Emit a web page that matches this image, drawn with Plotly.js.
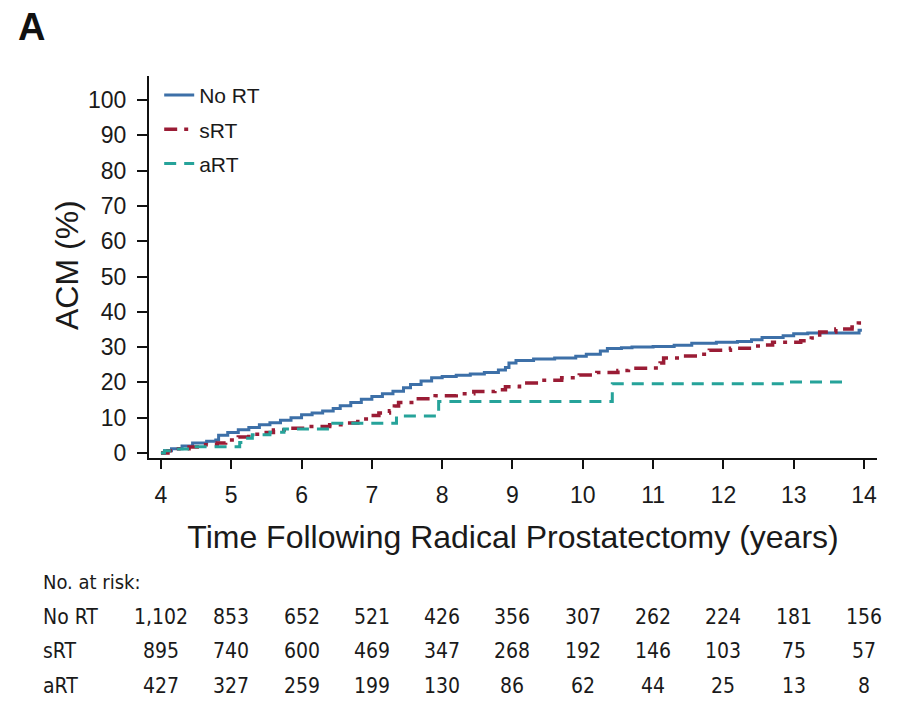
<!DOCTYPE html>
<html>
<head>
<meta charset="utf-8">
<script src="https://cdn.plot.ly/plotly-3.0.1.min.js"></script>
<style>
  html, body { margin: 0; padding: 0; background: #fff; }
  #chart { width: 904px; height: 704px; }
</style>
</head>
<body>
<div id="chart"></div>
<script>
// Cumulative all-cause mortality (%) by years after radical prostatectomy
const noRtYears = [4.00, 4.05, 4.15, 4.30, 4.45, 4.65, 4.78, 4.82, 4.95, 5.10, 5.25, 5.40, 5.55, 5.70, 5.85,
  6.00, 6.15, 6.30, 6.45, 6.55, 6.70, 6.85, 7.00, 7.15, 7.30, 7.45, 7.55, 7.70, 7.85, 8.00, 8.20, 8.40,
  8.60, 8.80, 8.90, 8.95, 9.05, 9.30, 9.60, 9.90, 10.05, 10.25, 10.35, 10.55, 10.70, 11.00, 11.30, 11.55,
  11.90, 12.20, 12.40, 12.55, 12.85, 13.00, 13.20, 13.90, 13.93, 13.97];
const noRtAcm = [0, 0.6, 1.2, 2.0, 2.8, 3.3, 3.7, 5.0, 5.8, 6.6, 7.2, 8.0, 8.6, 9.3, 10.0,
  10.8, 11.3, 11.9, 12.6, 13.4, 14.3, 15.2, 16.0, 16.8, 17.5, 18.5, 19.4, 20.4, 21.3, 21.7, 22.0, 22.4,
  22.8, 23.5, 24.2, 25.5, 26.2, 26.6, 26.9, 27.4, 28.0, 28.9, 29.6, 29.8, 30.0, 30.2, 30.5, 31.1,
  31.4, 31.6, 32.1, 32.7, 33.2, 33.8, 34.0, 34.0, 34.8, 34.8];

const sRtYears = [4.00, 4.10, 4.25, 4.40, 4.60, 4.80, 4.92, 5.10, 5.25, 5.40, 5.60, 5.85, 6.10, 6.40, 6.65,
  6.80, 6.95, 7.10, 7.25, 7.32, 7.38, 7.60, 7.90, 8.20, 8.45, 8.75, 8.90, 9.10, 9.40, 9.70, 9.95, 10.20,
  10.50, 10.65, 11.00, 11.10, 11.15, 11.40, 11.60, 11.80, 12.10, 12.40, 12.60, 12.70, 13.10, 13.25, 13.37,
  13.60, 13.83, 13.92, 13.97];
const sRtAcm = [0, 0.6, 1.2, 1.7, 2.3, 2.8, 3.7, 4.5, 5.3, 5.8, 6.5, 7.0, 7.5, 8.0, 8.5,
  9.6, 10.6, 11.3, 12.0, 13.3, 14.3, 15.4, 16.2, 16.8, 17.4, 17.9, 18.8, 19.8, 20.6, 21.3, 22.1, 22.8,
  23.4, 24.0, 24.1, 25.5, 26.9, 27.5, 28.0, 29.1, 29.7, 30.3, 30.6, 31.4, 31.8, 32.6, 34.3,
  35.1, 35.7, 36.8, 37.2];

const aRtYears = [4.00, 4.05, 4.20, 4.40, 5.12, 5.20, 5.30, 5.55, 5.75, 6.40, 7.35, 7.95, 10.42, 12.90, 13.80];
const aRtAcm = [0, 0.6, 1.1, 1.8, 3.0, 4.2, 5.2, 5.9, 6.8, 8.4, 10.5, 14.6, 19.6, 20.1, 20.1];

// Number at risk table
const riskYears = [4, 5, 6, 7, 8, 9, 10, 11, 12, 13, 14];
const riskNoRt = ['1,102', '853', '652', '521', '426', '356', '307', '262', '224', '181', '156'];
const riskSRt = ['895', '740', '600', '469', '347', '268', '192', '146', '103', '75', '57'];
const riskART = ['427', '327', '259', '199', '130', '86', '62', '44', '25', '13', '8'];
const groupNames = ['No RT', 'sRT', 'aRT'];
const yTicks = [0, 10, 20, 30, 40, 50, 60, 70, 80, 90, 100];

const mainFont = 'Liberation Sans, Arial, Helvetica, sans-serif';
const narrowFont = 'DejaVu Sans Condensed, Liberation Sans Narrow, Liberation Sans, sans-serif';

const traces = [
  { x: noRtYears, y: noRtAcm, name: groupNames[0], legendgroup: 'g1', mode: 'lines',
    line: { shape: 'hv', color: '#3d70a8', width: 3 } },
  { x: sRtYears, y: sRtAcm, name: groupNames[1], legendgroup: 'g2', mode: 'lines',
    line: { shape: 'hv', color: '#9a1c35', width: 3.5, dash: '13px,7px,4px,7px' } },
  { x: aRtYears, y: aRtAcm, name: groupNames[2], legendgroup: 'g3', mode: 'lines',
    line: { shape: 'hv', color: '#26a39a', width: 3, dash: '12px,8px' } }
];

// plot area spans 76..458 px vertically, 149..877 px horizontally
const plotTop = 76, plotBottom = 458, plotLeft = 149, plotWidth = 728;
const py = p => (plotBottom - p) / (plotBottom - plotTop);
const px = p => (p - plotLeft) / plotWidth;

const annotations = [
  { text: '<b>A</b>', xref: 'paper', yref: 'paper', x: px(16), y: py(4), xanchor: 'left', yanchor: 'top',
    showarrow: false, font: { family: mainFont, size: 38, color: '#111' } },
  { text: 'ACM (%)', xref: 'paper', yref: 'paper', x: px(67), y: py(265), xanchor: 'center', yanchor: 'middle',
    textangle: -90, showarrow: false, font: { family: mainFont, size: 32, color: '#1a1a1a' } },
  { text: 'No. at risk:', xref: 'paper', yref: 'paper', x: px(41), y: py(582), xanchor: 'left', yanchor: 'middle',
    showarrow: false, font: { family: narrowFont, size: 20, color: '#1a1a1a' } }
];
const rows = [riskNoRt, riskSRt, riskART];
const rowY = [617, 651, 686];
rows.forEach((vals, r) => {
  annotations.push({ text: groupNames[r], xref: 'paper', yref: 'paper', x: px(41), y: py(rowY[r]),
    xanchor: 'left', yanchor: 'middle', showarrow: false,
    font: { family: narrowFont, size: 21, color: '#1a1a1a' } });
  vals.forEach((v, i) => {
    annotations.push({ text: v, xref: 'x', yref: 'paper', x: riskYears[i], y: py(rowY[r]),
      xanchor: 'center', yanchor: 'middle', showarrow: false,
      font: { family: narrowFont, size: 21, color: '#1a1a1a' } });
  });
});

const layout = {
  width: 904, height: 704,
  margin: { l: plotLeft, r: 904 - plotLeft - plotWidth, t: plotTop, b: 704 - plotBottom, pad: 0 },
  paper_bgcolor: '#fff', plot_bgcolor: '#fff',
  showlegend: true,
  legend: { x: 0.014, y: 1.003, xanchor: 'left', yanchor: 'top', bgcolor: 'rgba(0,0,0,0)',
    traceorder: 'grouped', tracegroupgap: 4,
    font: { family: mainFont, size: 21, color: '#1a1a1a' } },
  xaxis: {
    range: [3.83, 14.185], showgrid: false, zeroline: false,
    showline: true, linecolor: '#111', linewidth: 2,
    ticks: 'outside', ticklen: 9, tickwidth: 2, tickcolor: '#111',
    tickvals: riskYears, ticklabelstandoff: 6,
    tickfont: { family: mainFont, size: 23, color: '#1a1a1a' },
    title: { text: 'Time Following Radical Prostatectomy (years)', standoff: 19,
      font: { family: mainFont, size: 32, color: '#1a1a1a' } }
  },
  yaxis: {
    range: [-1.42, 106.8], showgrid: false, zeroline: false,
    showline: true, linecolor: '#111', linewidth: 2,
    ticks: 'outside', ticklen: 10, tickwidth: 2, tickcolor: '#111',
    tickvals: yTicks, ticklabelstandoff: 6,
    tickfont: { family: mainFont, size: 23, color: '#1a1a1a' }
  },
  annotations: annotations
};

Plotly.newPlot('chart', traces, layout, { displayModeBar: false, staticPlot: true });
</script>
</body>
</html>
